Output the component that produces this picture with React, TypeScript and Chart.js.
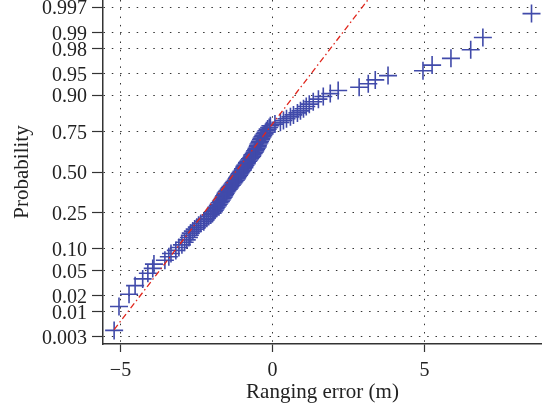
import React, { useEffect, useRef } from 'react';
import { Chart, registerables } from 'chart.js';

Chart.register(...registerables);

// Sorted ranging errors (m)
const rangingError = [
  -5.21, -5.05, -4.72, -4.52, -4.27, -4.10, -3.94, -3.90, -3.54, -3.41,
  -3.34, -3.18, -3.08, -2.98, -2.89, -2.82, -2.75, -2.72, -2.69, -2.62,
  -2.56, -2.49, -2.43, -2.36, -2.26, -2.23, -2.16, -2.10, -2.03, -1.97,
  -1.93, -1.90, -1.87, -1.84, -1.80, -1.77, -1.74, -1.70, -1.67, -1.64,
  -1.61, -1.59, -1.56, -1.54, -1.51, -1.48, -1.44, -1.41, -1.38, -1.34,
  -1.31, -1.28, -1.25, -1.21, -1.18, -1.16, -1.13, -1.10, -1.08, -1.05,
  -1.02, -0.98, -0.97, -0.93, -0.92, -0.89, -0.85, -0.84, -0.80, -0.77,
  -0.74, -0.70, -0.67, -0.66, -0.62, -0.59, -0.57, -0.54, -0.52, -0.49,
  -0.48, -0.46, -0.43, -0.41, -0.38, -0.36, -0.33, -0.30, -0.26, -0.23,
  -0.20, -0.16, -0.11, -0.07, 0.08, 0.26, 0.36, 0.46, 0.59, 0.69,
  0.82, 0.92, 1.02, 1.11, 1.21, 1.34, 1.51, 1.67, 1.90, 2.16,
  2.85, 3.15, 3.38, 3.80, 4.95, 5.25, 5.87, 6.52, 6.92, 8.52,
];

const probTicks = [0.003, 0.01, 0.02, 0.05, 0.10, 0.25, 0.50, 0.75, 0.90, 0.95, 0.98, 0.99, 0.997];
const probTickLabels = ['0.003', '0.01', '0.02', '0.05', '0.10', '0.25', '0.50', '0.75', '0.90', '0.95', '0.98', '0.99', '0.997'];
const xTicks = [-5, 0, 5];
const xTickLabels = ['\u22125', '0', '5'];

// Reference normal fit line (dash-dot), spans data range
const refLineX = [-5.21, 8.52];
const refMu = -1.22;
const refSigma = 1.52;

function norminv(p: number): number {
  const a = [-3.969683028665376e+01, 2.209460984245205e+02, -2.759285104469687e+02, 1.383577518672690e+02, -3.066479806614716e+01, 2.506628277459239e+00];
  const b = [-5.447609879822406e+01, 1.615858368580409e+02, -1.556989798598866e+02, 6.680131188771972e+01, -1.328068155288572e+01];
  const c = [-7.784894002430293e-03, -3.223964580411365e-01, -2.400758277161838e+00, -2.549732539343734e+00, 4.374664141464968e+00, 2.938163982698783e+00];
  const d = [7.784695709041462e-03, 3.224671290700398e-01, 2.445134137142996e+00, 3.754408661907416e+00];
  const pl = 0.02425;
  if (p < pl) {
    const q = Math.sqrt(-2 * Math.log(p));
    return (((((c[0] * q + c[1]) * q + c[2]) * q + c[3]) * q + c[4]) * q + c[5]) / ((((d[0] * q + d[1]) * q + d[2]) * q + d[3]) * q + 1);
  }
  if (p > 1 - pl) {
    const q = Math.sqrt(-2 * Math.log(1 - p));
    return -(((((c[0] * q + c[1]) * q + c[2]) * q + c[3]) * q + c[4]) * q + c[5]) / ((((d[0] * q + d[1]) * q + d[2]) * q + d[3]) * q + 1);
  }
  const q = p - 0.5;
  const r = q * q;
  return (((((a[0] * r + a[1]) * r + a[2]) * r + a[3]) * r + a[4]) * r + a[5]) * q / (((((b[0] * r + b[1]) * r + b[2]) * r + b[3]) * r + b[4]) * r + 1);
}

const FONT = 'Liberation Serif, Times New Roman, serif';
const TEXT = '#222';
const AXIS = '#333';

export default function App() {
  const ref = useRef<HTMLCanvasElement>(null);

  useEffect(() => {
    if (!ref.current) return;
    const n = rangingError.length;
    const points = rangingError.map((x, i) => ({ x, y: norminv((i + 0.5) / n) }));
    const line = refLineX.map((x) => ({ x, y: (x - refMu) / refSigma }));

    const chart = new Chart(ref.current, {
      type: 'scatter',
      data: {
        datasets: [
          {
            data: line,
            showLine: true,
            borderColor: '#e0261c',
            borderWidth: 1.3,
            borderDash: [6, 3, 1.5, 3],
            pointRadius: 0,
            fill: false,
          },
          {
            data: points,
            showLine: false,
            pointStyle: 'cross',
            pointRadius: 9,
            pointHoverRadius: 9,
            borderColor: 'rgb(64,74,170)',
            backgroundColor: 'rgb(64,74,170)',
            pointBorderWidth: 1.6,
          },
        ],
      },
      options: {
        animation: false,
        responsive: false,
        maintainAspectRatio: false,
        devicePixelRatio: 1,
        layout: { padding: 0, autoPadding: false },
        plugins: { legend: { display: false }, tooltip: { enabled: false } },
        scales: {
          x: {
            type: 'linear',
            min: -5.576,
            max: 8.865,
            afterBuildTicks: (s: any) => {
              s.ticks = xTicks.map((v) => ({ value: v }));
            },
            afterFit: (s: any) => {
              s.height = 64;
              s.paddingLeft = 0;
              s.paddingRight = 0;
            },
            ticks: {
              callback: (_v: any, i: number) => xTickLabels[i],
              font: { family: FONT, size: 20 },
              color: TEXT,
              padding: 7,
              maxRotation: 0,
              autoSkip: false,
            },
            grid: {
              color: AXIS,
              lineWidth: 1,
              tickLength: 8,
              tickColor: AXIS,
              tickWidth: 1.2,
              tickBorderDash: [],
            },
            border: { display: true, color: AXIS, width: 1.5, dash: [1.5, 6.8] },
            title: {
              display: true,
              text: 'Ranging error (m)',
              font: { family: FONT, size: 21 },
              color: TEXT,
              padding: { top: 0, bottom: 3 },
            },
          },
          y: {
            type: 'linear',
            min: -2.865,
            max: 2.865,
            afterBuildTicks: (s: any) => {
              s.ticks = probTicks.map((p) => ({ value: norminv(p) }));
            },
            afterFit: (s: any) => {
              s.width = 103;
              s.paddingTop = 0;
              s.paddingBottom = 0;
            },
            ticks: {
              callback: (_v: any, i: number) => probTickLabels[i],
              font: { family: FONT, size: 20 },
              color: TEXT,
              padding: 5,
              labelOffset: 2,
              autoSkip: false,
            },
            grid: {
              color: AXIS,
              lineWidth: 1,
              tickLength: 11,
              tickColor: AXIS,
              tickWidth: 1.2,
              tickBorderDash: [],
            },
            border: { display: true, color: AXIS, width: 1.5, dash: [1.5, 6.8] },
            title: {
              display: true,
              text: 'Probability',
              font: { family: FONT, size: 21 },
              color: TEXT,
              padding: { top: 10, bottom: 0 },
            },
          },
        },
      },
    } as any);
    return () => chart.destroy();
  }, []);

  return (
    <div style={{ position: 'fixed', left: 0, top: 0, width: 542, height: 408 }}>
      <canvas ref={ref} width={542} height={408} style={{ display: 'block' }} />
    </div>
  );
}
